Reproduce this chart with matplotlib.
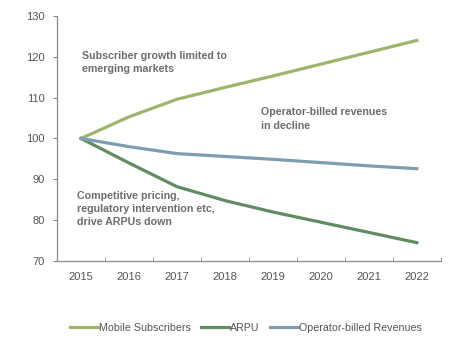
import matplotlib.pyplot as plt
from matplotlib.ticker import MultipleLocator

plt.rcParams['font.family'] = ['Liberation Sans', 'DejaVu Sans']

years = [2015, 2016, 2017, 2018, 2019, 2020, 2021, 2022]
subscribers = [100, 105.3, 109.6, 112.5, 115.3, 118.2, 121.1, 124.0]
arpu = [100, 94.0, 88.2, 84.8, 82.0, 79.5, 77.0, 74.5]
operator_rev = [100, 98.0, 96.3, 95.6, 94.9, 94.1, 93.3, 92.6]

grey = '#6d6d6d'
fig = plt.figure(figsize=(4.64, 3.39), dpi=100)
ax = fig.add_axes([0.123, 0.230, 0.827, 0.723])

ax.plot(years, subscribers, color='#9db56b', lw=2.3, label='Mobile Subscribers')
ax.plot(years, arpu, color='#5f8c63', lw=2.3, label='ARPU')
ax.plot(years, operator_rev, color='#7f9db1', lw=2.3, label='Operator-billed Revenues')

ax.set_xlim(2014.5, 2022.5)
ax.set_ylim(70, 130)
ax.set_xticks(years)
ax.xaxis.set_minor_locator(MultipleLocator(1, offset=0.5))
ax.yaxis.set_major_locator(MultipleLocator(10))
for s in ['top', 'right']:
    ax.spines[s].set_visible(False)
for s in ['left', 'bottom']:
    ax.spines[s].set_color('#8a8a8a')
    ax.spines[s].set_linewidth(0.9)
ax.tick_params(axis='x', which='major', length=0, labelsize=8, labelcolor='#555555', pad=8)
ax.tick_params(axis='x', which='minor', direction='in', length=3, color='#8a8a8a')
ax.tick_params(axis='y', length=3, color='#8a8a8a', labelsize=8, labelcolor='#555555', pad=6)

# annotations
txt = dict(color=grey, fontsize=7.7, fontweight='bold', va='top', linespacing=1.4)
ax.text(2015.02, 121.4, 'Subscriber growth limited to\nemerging markets', **txt)
ax.text(2018.76, 107.6, 'Operator-billed revenues\nin decline', **txt)
ax.text(2014.92, 87.2, 'Competitive pricing,\nregulatory intervention etc,\ndrive ARPUs down', **txt)

fig.legend(loc='lower center', bbox_to_anchor=(0.53, -0.01), ncol=3, frameon=False,
           fontsize=7.7, labelcolor='#555555', handlelength=2.6, handletextpad=0.1,
           columnspacing=1.0)

fig.savefig('out.png', dpi=100, facecolor='white')
